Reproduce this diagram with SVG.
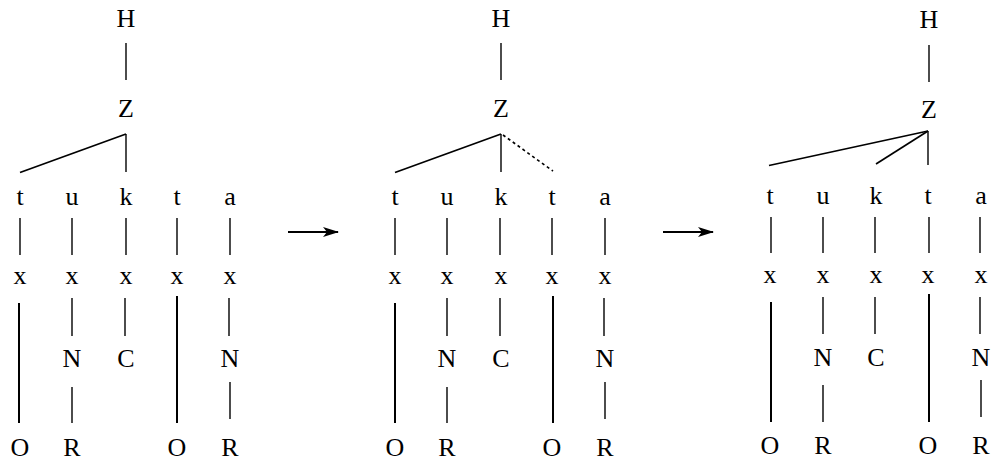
<svg xmlns="http://www.w3.org/2000/svg" width="993" height="463" viewBox="0 0 993 463">
<defs>
<style>
text{font-family:"Liberation Serif","DejaVu Serif",serif;font-size:26px;fill:#000;text-anchor:middle}
.l{stroke:#000;stroke-width:1.4;fill:none}
.d{stroke:#000;stroke-width:1.7;fill:none}
.k{stroke:#000;stroke-width:2;fill:none}
.dot{stroke:#000;stroke-width:1.6;fill:none;stroke-dasharray:3 3}
.ar{stroke:#000;stroke-width:2;fill:none}
</style>
<marker id="ah" viewBox="0 0 16 10" refX="15" refY="5" markerWidth="16" markerHeight="10" markerUnits="userSpaceOnUse" orient="auto">
<path d="M0,0 L16,5 L0,10 L4,5 z" fill="#000"/>
</marker>
</defs>
<rect width="993" height="463" fill="#fff"/>

<!-- Tree 1 -->
<g id="t1-H"><text x="126" y="27">H</text></g>
<g id="t1-Z"><text x="126" y="117">Z</text></g>
<g id="t1-c1"><text x="20" y="205">t</text><text x="20" y="284">x</text><text x="20" y="456">O</text></g>
<g id="t1-c2"><text x="72" y="205">u</text><text x="72" y="284">x</text><text x="72" y="367">N</text><text x="72" y="456">R</text></g>
<g id="t1-c3"><text x="126" y="205">k</text><text x="126" y="284">x</text><text x="126" y="367">C</text></g>
<g id="t1-c4"><text x="177" y="205">t</text><text x="177" y="284">x</text><text x="177" y="456">O</text></g>
<g id="t1-c5"><text x="230" y="205">a</text><text x="230" y="284">x</text><text x="230" y="367">N</text><text x="230" y="456">R</text></g>

<!-- Tree 2 -->
<g id="t2-H"><text x="501" y="27">H</text></g>
<g id="t2-Z"><text x="501" y="117">Z</text></g>
<g id="t2-c1"><text x="395" y="205">t</text><text x="395" y="284">x</text><text x="395" y="456">O</text></g>
<g id="t2-c2"><text x="447" y="205">u</text><text x="447" y="284">x</text><text x="447" y="367">N</text><text x="447" y="456">R</text></g>
<g id="t2-c3"><text x="501" y="205">k</text><text x="501" y="284">x</text><text x="501" y="367">C</text></g>
<g id="t2-c4"><text x="552" y="205">t</text><text x="552" y="284">x</text><text x="552" y="456">O</text></g>
<g id="t2-c5"><text x="605" y="205">a</text><text x="605" y="284">x</text><text x="605" y="367">N</text><text x="605" y="456">R</text></g>

<!-- Tree 3 -->
<g id="t3-H"><text x="929" y="28">H</text></g>
<g id="t3-Z"><text x="929" y="118">Z</text></g>
<g id="t3-c1"><text x="770" y="204">t</text><text x="770" y="283">x</text><text x="770" y="454">O</text></g>
<g id="t3-c2"><text x="823" y="204">u</text><text x="823" y="283">x</text><text x="823" y="366">N</text><text x="823" y="454">R</text></g>
<g id="t3-c3"><text x="876" y="204">k</text><text x="876" y="283">x</text><text x="876" y="366">C</text></g>
<g id="t3-c4"><text x="928" y="204">t</text><text x="928" y="283">x</text><text x="928" y="454">O</text></g>
<g id="t3-c5"><text x="981" y="204">a</text><text x="981" y="283">x</text><text x="981" y="366">N</text><text x="981" y="454">R</text></g>

<g id="connectors">
<!-- Tree 1 -->
<line class="l" x1="126" y1="43" x2="126" y2="80"/>
<line class="d" x1="126" y1="134" x2="20" y2="172.5"/>
<line class="l" x1="126" y1="134" x2="126" y2="172"/>
<line class="l" x1="20" y1="218" x2="20" y2="255"/>
<line class="l" x1="72" y1="218" x2="72" y2="255"/>
<line class="l" x1="126" y1="218" x2="126" y2="255"/>
<line class="l" x1="177" y1="218" x2="177" y2="255"/>
<line class="l" x1="230" y1="218" x2="230" y2="255"/>
<line class="k" x1="19" y1="303" x2="19" y2="423"/>
<line class="l" x1="72" y1="298" x2="72" y2="336"/>
<line class="l" x1="72" y1="387" x2="72" y2="423"/>
<line class="l" x1="125" y1="298" x2="125" y2="336"/>
<line class="k" x1="177" y1="296" x2="177" y2="423"/>
<line class="l" x1="229" y1="298" x2="229" y2="336"/>
<line class="l" x1="230" y1="382" x2="230" y2="419"/>

<!-- Tree 2 -->
<line class="l" x1="501" y1="43" x2="501" y2="80"/>
<line class="d" x1="501" y1="134" x2="395" y2="172.5"/>
<line class="l" x1="501" y1="134" x2="501" y2="172"/>
<line class="dot" x1="503" y1="135" x2="553" y2="171"/>
<line class="l" x1="395" y1="218" x2="395" y2="255"/>
<line class="l" x1="447" y1="218" x2="447" y2="255"/>
<line class="l" x1="500" y1="218" x2="500" y2="255"/>
<line class="l" x1="552" y1="218" x2="552" y2="255"/>
<line class="l" x1="605" y1="218" x2="605" y2="255"/>
<line class="k" x1="395" y1="303" x2="395" y2="423"/>
<line class="l" x1="447" y1="298" x2="447" y2="336"/>
<line class="l" x1="447" y1="387" x2="447" y2="423"/>
<line class="l" x1="500" y1="298" x2="500" y2="336"/>
<line class="k" x1="553" y1="296" x2="553" y2="423"/>
<line class="l" x1="604" y1="298" x2="604" y2="336"/>
<line class="l" x1="605" y1="382" x2="605" y2="419"/>

<!-- Tree 3 -->
<line class="l" x1="929" y1="45" x2="929" y2="82"/>
<line class="d" x1="928" y1="131" x2="769" y2="165.5"/>
<line class="d" x1="928" y1="131" x2="876" y2="164"/>
<line class="l" x1="928" y1="131" x2="928" y2="165"/>
<line class="l" x1="771" y1="217" x2="771" y2="253"/>
<line class="l" x1="823" y1="217" x2="823" y2="253"/>
<line class="l" x1="875" y1="217" x2="875" y2="253"/>
<line class="l" x1="929" y1="217" x2="929" y2="253"/>
<line class="l" x1="980" y1="217" x2="980" y2="253"/>
<line class="k" x1="771" y1="302" x2="771" y2="422"/>
<line class="l" x1="823" y1="297" x2="823" y2="334"/>
<line class="l" x1="823" y1="385" x2="823" y2="422"/>
<line class="l" x1="875" y1="297" x2="875" y2="334"/>
<line class="k" x1="929" y1="294" x2="929" y2="422"/>
<line class="l" x1="980" y1="297" x2="980" y2="334"/>
<line class="l" x1="981" y1="380" x2="981" y2="417"/>

<!-- arrows -->
<line class="ar" x1="288" y1="232" x2="338" y2="232" marker-end="url(#ah)"/>
<line class="ar" x1="663" y1="232" x2="713" y2="232" marker-end="url(#ah)"/>
</g>
</svg>
